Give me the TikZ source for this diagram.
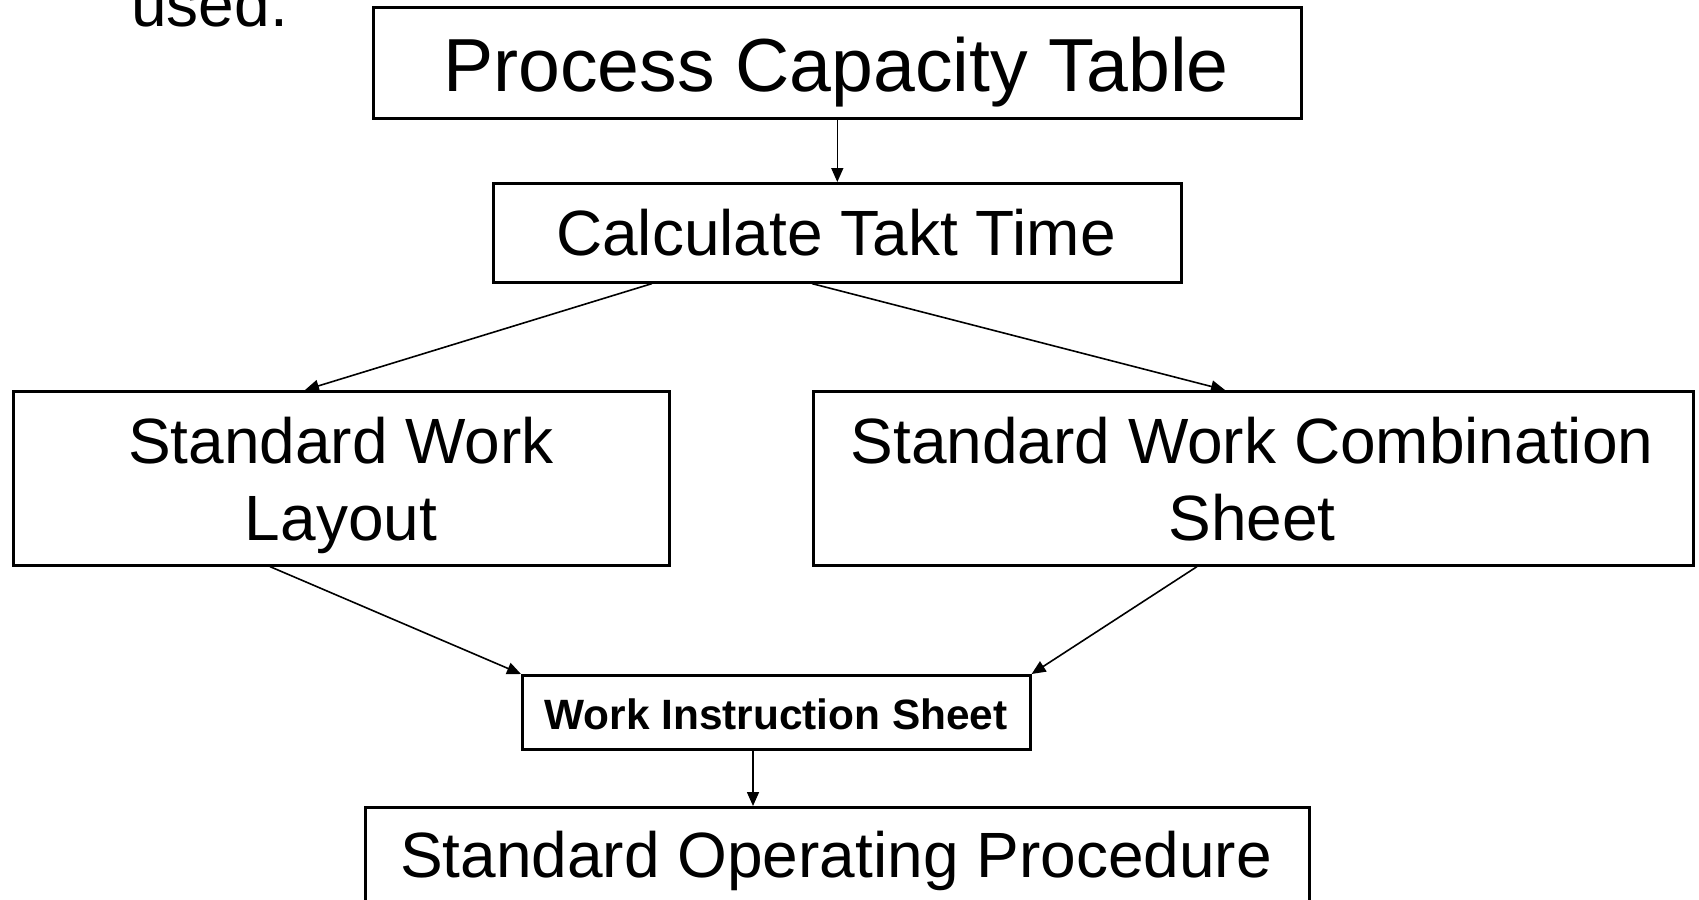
\documentclass[tikz,border=0pt]{standalone}
\usepackage{fontspec}
\setmainfont{Liberation Sans}
\usetikzlibrary{arrows.meta,calc}
\begin{document}
\begin{tikzpicture}[x=0.5pt,y=-0.5pt,
  box/.style={draw=black,line width=1.3pt,rectangle,inner sep=0pt,anchor=north west},
  big/.style={inner sep=0pt,font=\fontsize{37.6}{44}\selectfont},
  mid/.style={inner sep=0pt,font=\fontsize{32}{38.5}\selectfont,align=center},
  small/.style={inner sep=0pt,font=\fontsize{21.2}{25}\selectfont\bfseries},
  conn/.style={draw=black,line width=0.8pt,-{Triangle[length=7pt,width=6pt]}}]
\useasboundingbox (0,0) rectangle (1699,900);
% boxes
\node[box,minimum width=464pt,minimum height=55.5pt] (pct) at (372,6) {};
\node[box,minimum width=344pt,minimum height=49.5pt] (ctt) at (492,182) {};
\node[box,minimum width=328pt,minimum height=87pt] (swl) at (12,390) {};
\node[box,minimum width=440pt,minimum height=87pt] (swcs) at (812,390) {};
\node[box,minimum width=254pt,minimum height=37pt] (wis) at (521,674) {};
\node[box,minimum width=472pt,minimum height=60pt] (sop) at (364,806) {};
% texts
\node[mid,anchor=base west] (used) at (131,26) {used.};
\node[big,anchor=base] (tpct) at (836,91) {Process Capacity Table};
\node[mid,anchor=base] (tctt) at (836,255) {Calculate Takt Time};
\node[mid,anchor=north] (tswl) at (341,416.5) {Standard Work\\Layout};
\node[mid,anchor=north] (tswcs) at (1252,416.5) {Standard Work Combination\\Sheet};
\node[small,anchor=base] (twis) at (776,729) {Work Instruction Sheet};
\node[mid,anchor=base] (tsop) at (836,877) {Standard Operating Procedure};
% connectors
\draw[conn] (pct.south) -- (ctt.north);
\draw[conn] ($(ctt.south west)+(160,0)$) -- ($(swl.north west)+(293,0)$);
\draw[conn] ($(ctt.south west)+(320,0)$) -- ($(swcs.north west)+(413,0)$);
\draw[conn] ($(swl.south west)+(258,0)$) -- (wis.north west);
\draw[conn] ($(swcs.south west)+(385,0)$) -- (wis.north east);
\coordinate (wisout) at ($(wis.south west)+(232,0)$);
\draw[conn] (wisout) -- (wisout |- sop.north);
\end{tikzpicture}
\end{document}
